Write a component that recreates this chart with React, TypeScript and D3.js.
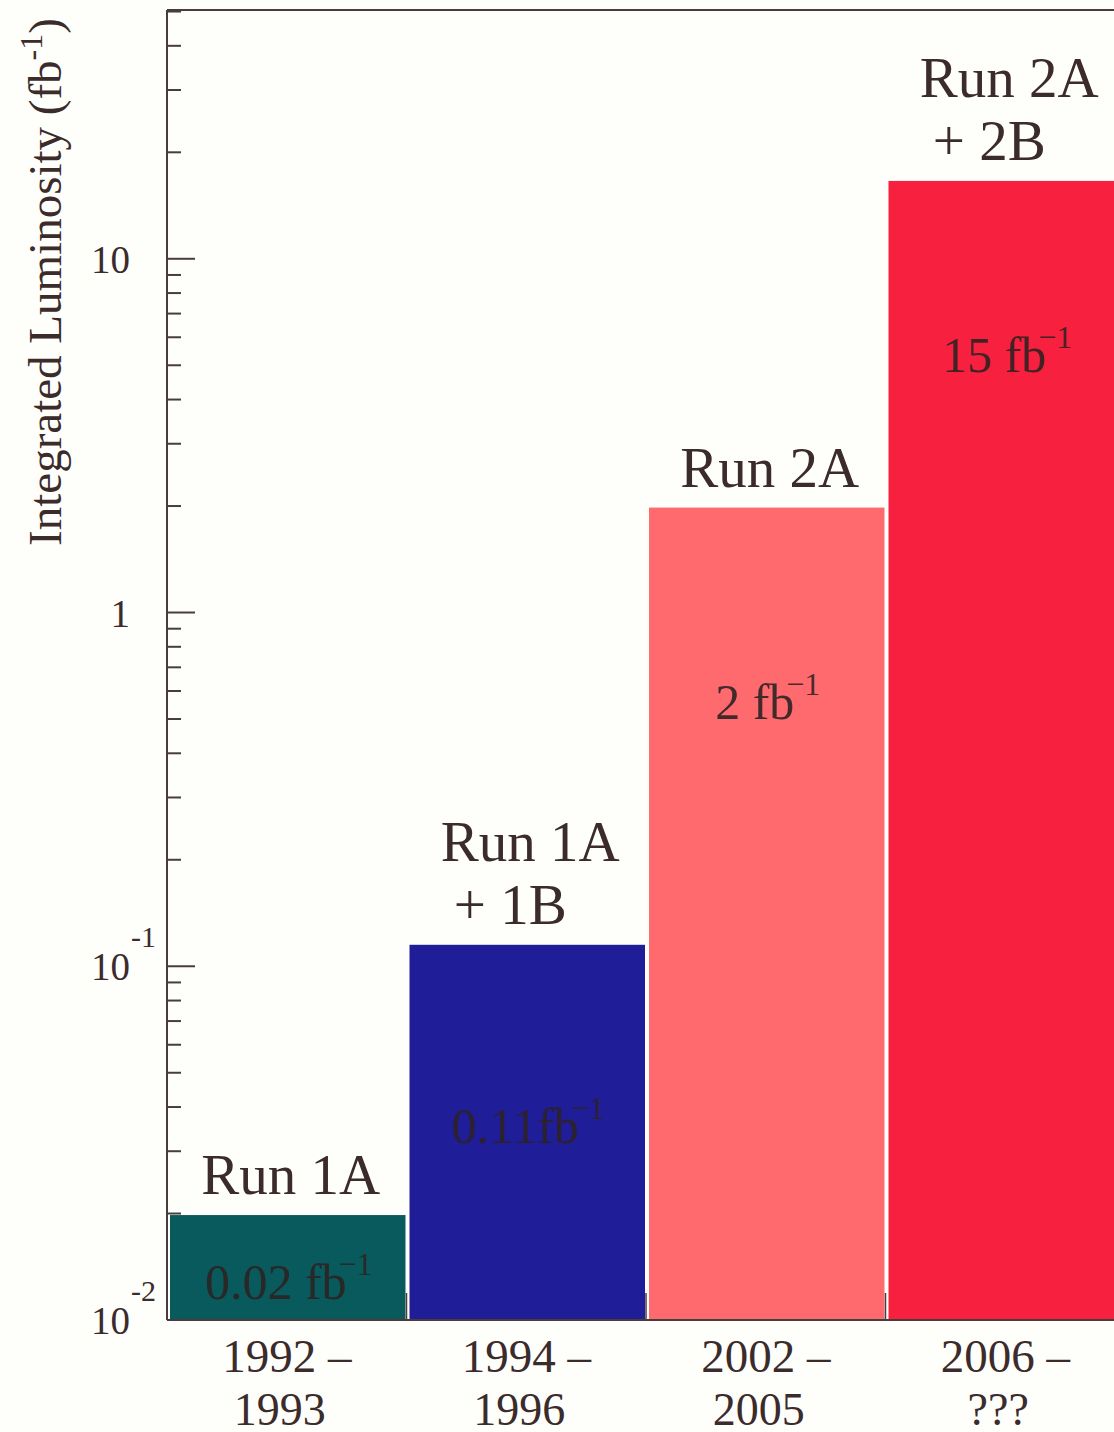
import * as d3 from 'd3';

const periodStart = ['1992 –', '1994 –', '2002 –', '2006 –'];
const periodEnd = ['1993', '1996', '2005', '???'];
const runLines = [['Run 1A'], ['Run 1A', '+ 1B'], ['Run 2A'], ['Run 2A', '+ 2B']];
const luminosity = [0.0198, 0.115, 1.98, 16.6];
const valueNumber = ['0.02', '0.11', '2', '15'];
const valueUnit = [' fb', 'fb', ' fb', ' fb'];
const valueLabelAt = [0.0115, 0.0316, 0.5, 4.8];
const barColors = ['#085a5c', '#1f1d98', '#ff6a6e', '#f7213f'];
const majorTicks = [0.01, 0.1, 1, 10];

const W = 1114;
const H = 1432;
const ink = '#3b2b2b';
const axisInk = '#4a3c3c';
const serif = '"Liberation Serif", "Times New Roman", serif';

export default function App() {
  const top = 10;
  const bottom = 1320;
  const left = 167;
  const bandW = 239.5;

  const y = d3.scaleLog().domain([0.01, 50.5]).range([bottom, top]);
  const x = d3
    .scaleBand<number>()
    .domain(d3.range(luminosity.length))
    .range([left, left + bandW * luminosity.length])
    .paddingInner(0);

  const minorTicks = y.ticks().filter((t) => !majorTicks.some((m) => Math.abs(m - t) / m < 1e-6));

  return (
    <div style={{ position: 'absolute', left: 0, top: 0, width: W, height: H, overflow: 'hidden', background: '#fefefb' }}>
      <svg width={W} height={H} style={{ display: 'block', fontFamily: serif }}>
        <rect width={W} height={H} fill="#fefefb" />

        {/* bars */}
        {luminosity.map((v, i) => (
          <rect
            key={i}
            x={x(i)! + 3}
            y={y(v)}
            width={x.bandwidth() - 4}
            height={bottom - y(v)}
            fill={barColors[i]}
          />
        ))}

        {/* frame */}
        <line x1={left} x2={W + 20} y1={top} y2={top} stroke={axisInk} strokeWidth={2} />
        <line x1={left} x2={left} y1={top} y2={bottom} stroke={axisInk} strokeWidth={2} />
        <line x1={left} x2={W + 20} y1={bottom} y2={bottom} stroke={axisInk} strokeWidth={2} />

        {/* y ticks */}
        {majorTicks.map((t) => (
          <line key={'M' + t} x1={left} x2={left + 28} y1={y(t)} y2={y(t)} stroke={axisInk} strokeWidth={2} />
        ))}
        {minorTicks.map((t) => (
          <line key={'m' + t} x1={left} x2={left + 14} y1={y(t)} y2={y(t)} stroke={axisInk} strokeWidth={2} />
        ))}

        {/* x ticks at band boundaries */}
        {d3.range(1, luminosity.length).map((i) => (
          <line key={'x' + i} x1={x(i)!} x2={x(i)!} y1={bottom} y2={bottom - 27} stroke={axisInk} strokeWidth={1.5} />
        ))}

        {/* y tick labels */}
        {majorTicks.map((t) => {
          const exp = Math.round(Math.log10(t));
          return (
            <text key={'l' + t} x={130} y={y(t)} dy="0.36em" textAnchor="end" fontSize={39} fill={ink}>
              {exp >= 0 ? String(t) : '10'}
            </text>
          );
        })}
        {majorTicks
          .filter((t) => t < 1)
          .map((t) => (
            <text key={'e' + t} x={131} y={y(t) - 19} fontSize={30} fill={ink}>
              {'-' + Math.abs(Math.round(Math.log10(t)))}
            </text>
          ))}

        {/* y axis title */}
        <text transform="translate(61,282) rotate(-90)" textAnchor="middle" fontSize={47} fill={ink}>
          Integrated Luminosity (fb
          <tspan dy={-19} fontSize={32}>-1</tspan>
          <tspan dy={19}>)</tspan>
        </text>

        {/* run labels */}
        {runLines.map((lines, i) => {
          const cx = x(i)! + x.bandwidth() / 2;
          const base = y(luminosity[i]) - 21;
          return lines.map((s, j) => (
            <text
              key={'r' + i + j}
              x={j === 0 ? cx + 4 : cx - 16}
              y={base - (lines.length - 1 - j) * 63}
              textAnchor="middle"
              fontSize={57}
              fill={ink}
            >
              {s}
            </text>
          ));
        })}

        {/* value labels */}
        {valueNumber.map((s, i) => (
          <text
            key={'v' + i}
            x={x(i)! + x.bandwidth() / 2 + 2}
            y={y(valueLabelAt[i])}
            textAnchor="middle"
            fontSize={50}
            fill="#2e2222"
            fillOpacity={0.9}
          >
            {s}
            <tspan>{valueUnit[i]}</tspan>
            <tspan dx={-8} dy={-24} fontSize={32}>−1</tspan>
          </text>
        ))}

        {/* period labels */}
        {periodStart.map((s, i) => {
          const cx = x(i)! + x.bandwidth() / 2;
          return (
            <g key={'p' + i}>
              <text x={cx} y={1372} textAnchor="middle" fontSize={47} fill={ink}>
                {s}
              </text>
              <text x={cx - 7} y={1425} textAnchor="middle" fontSize={46} fill={ink}>
                {periodEnd[i]}
              </text>
            </g>
          );
        })}
      </svg>
    </div>
  );
}
